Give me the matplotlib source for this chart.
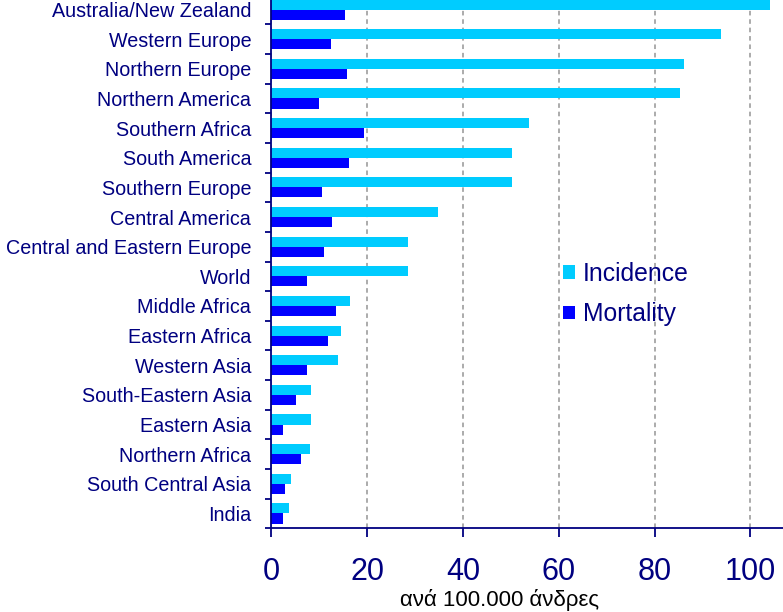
import matplotlib.pyplot as plt
import numpy as np

plt.rcParams['font.family'] = ['Liberation Sans', 'DejaVu Sans']

# data, top to bottom as in the chart
regions = [
    "Australia/New Zealand", "Western Europe", "Northern Europe", "Northern America",
    "Southern Africa", "South America", "Southern Europe", "Central America",
    "Central and Eastern Europe", "World", "Middle Africa", "Eastern Africa",
    "Western Asia", "South-Eastern Asia", "Eastern Asia", "Northern Africa",
    "South Central Asia", "India",
]
incidence = [104.0, 93.9, 86.2, 85.4, 53.8, 50.2, 50.2, 34.8, 28.5, 28.5,
             16.4, 14.6, 13.9, 8.3, 8.3, 8.1, 4.1, 3.7]
mortality = [15.4, 12.4, 15.8, 9.9, 19.4, 16.2, 10.6, 12.7, 11.0, 7.5,
             13.5, 11.8, 7.5, 5.2, 2.4, 6.2, 2.9, 2.4]
xticks = [0, 20, 40, 60, 80, 100]

navy = "#000080"
cyan = "#00CCFF"
blue = "#0000FF"

fig = plt.figure(figsize=(7.83, 6.12), dpi=100)
ax = fig.add_axes([271.3 / 783, 83.7 / 612, 1 - 271.3 / 783, 533.6 / 612])

y = np.arange(len(regions))
h = 0.34
ax.barh(y - h / 2, incidence, height=h, color=cyan, label="Incidence", zorder=2)
ax.barh(y + h / 2, mortality, height=h, color=blue, label="Mortality", zorder=2)

ax.set_ylim(len(regions) - 0.5, -0.5)
ax.set_xlim(0, 106.8)

ax.set_yticks(y)
ax.set_yticklabels(regions, fontsize=14.2, color=navy)
ax.set_yticks(np.arange(0.5, len(regions), 1), minor=True)
ax.tick_params(axis='y', which='major', length=0, pad=14.5)
ax.tick_params(axis='y', which='minor', length=4.5, width=1.3, color=navy, direction='out')

ax.set_xticks(xticks)
ax.set_xticklabels([str(t) for t in xticks], fontsize=22, color=navy)
ax.tick_params(axis='x', length=6.8, width=1.3, color=navy, direction='out', pad=14)

ax.grid(axis='x', color='#959595', linestyle=(0, (3, 2.5)), linewidth=1.1, zorder=0)
ax.set_axisbelow(True)

for s in ['top', 'right']:
    ax.spines[s].set_visible(False)
for s in ['left', 'bottom']:
    ax.spines[s].set_color(navy)
    ax.spines[s].set_linewidth(1.3)

leg = ax.legend(loc='upper left', bbox_to_anchor=(563 / 783, 1 - 262 / 612),
                bbox_transform=fig.transFigure, frameon=False, fontsize=17.8,
                handlelength=0.49, handleheight=0.49, handletextpad=0.32,
                labelspacing=0.66, borderpad=0, borderaxespad=0)
for t in leg.get_texts():
    t.set_color(navy)

fig.text(499 / 783, 1 / 612, "ανά 100.000 άνδρες", fontsize=16, color='black',
         ha='center', va='bottom')

fig.savefig("out.png", dpi=100)
